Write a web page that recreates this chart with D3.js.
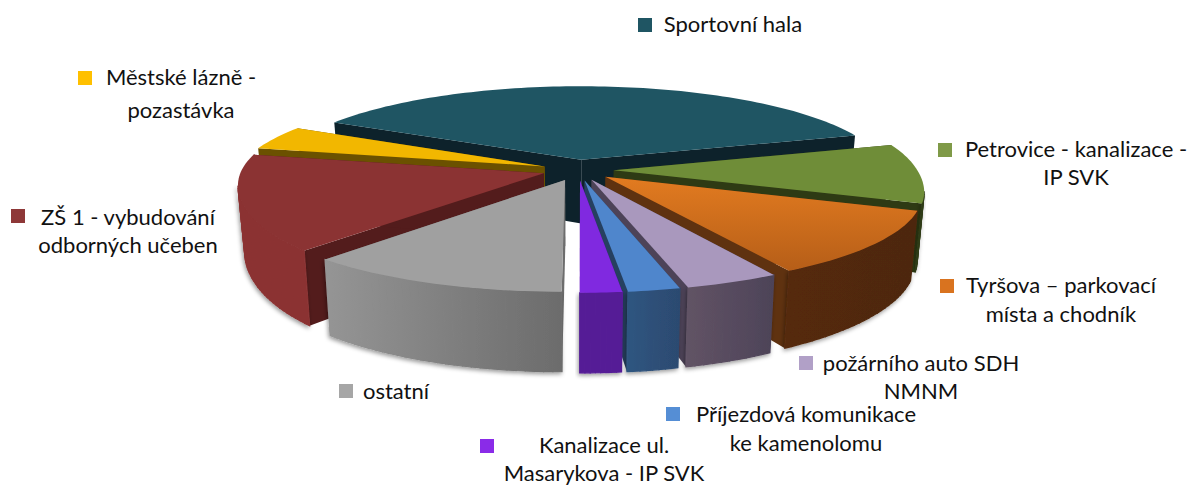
<!DOCTYPE html>
<html><head><meta charset="utf-8">
<style>html,body{margin:0;padding:0;background:#fff;overflow:hidden}svg{display:block}text{font-family:Lato,"Open Sans",sans-serif;font-size:22px;fill:#111}</style>
<script src="https://cdn.jsdelivr.net/npm/d3@7/dist/d3.min.js"></script>
</head><body><svg id="c" width="1189" height="486"></svg>
<script>
const categories=["Sportovní hala","Petrovice - kanalizace - IP SVK","Tyršova – parkovací místa a chodník","požárního auto SDH NMNM","Příjezdová komunikace ke kamenolomu","Kanalizace ul. Masarykova - IP SVK","ostatní","ZŠ 1 - vybudování odborných učeben","Městské lázně - pozastávka"];
const values=[37.4,10.5,11.2,4.1,2.25,1.8,11.5,16.9,4.35];
const topColors=["#1f5563","#6f8d38",["#e27b20","#b65e18"],"#a998bd","#4f86cc","#8029e0","#a0a0a0","#8b3333","#f2b700"];
const legendColors=["#1f5563","#7f9a48","#d9731f","#b1a0c7","#558ed5","#8a2be8","#a6a6a6","#8e3838","#ffc000"];
const wallColors=["#0d222b","#2e3a14","#5f3210","#4d4358","#264060","#3f1578","#6d6d6d","#531c1c","#6b5100"];
const rimLight=["#1f5563","#2e3a14","#55290c","#615365","#2f5580","#551c96","#959595","#8b3333","#8a6a00"];
const rimDark=["#0d222b","#2e3a14","#4d280b","#4d4358","#2c4a70","#551c96","#6c6c6c","#8b3333","#8a6a00"];
const rimFlatten=[0,.012,0,0,0,0,0,.03,0];
const legendLines=[["Sportovní hala"],["Petrovice - kanalizace -","IP SVK"],["Tyršova – parkovací","místa a chodník"],["požárního auto SDH","NMNM"],["Příjezdová komunikace","ke kamenolomu"],["Kanalizace ul.","Masarykova - IP SVK"],["ostatní"],["ZŠ 1 - vybudování","odborných učeben"],["Městské lázně -","pozastávka"]];
const legendPos=[[638,18,733,32],[938,143,1076,157],[940,279,1061,293],[799,356,921,371],[666,407,806,422],[480,439,604,453],[339,384,396,399],[11,209,128,225],[78,71,181,85]];
const lineGap=[0,28,29,28,29,28,0,28,33];

const svg=d3.select("#c"),defs=svg.append("defs");
const cx=578,cy=170,RX=325,RY=94.4,persp=.179,H=65,radius=.945,explode=.11,bottomX=.98;
const startDeg=298;
const pie=d3.pie().sort(null).value(d=>d).startAngle(startDeg*Math.PI/180).endAngle((startDeg+360)*Math.PI/180);
const arcs=pie(values);
function proj(u,v,z){const k=1/(1-persp*v);return [cx+(u*RX*k)*(z?bottomX:1),cy+k*(RY*v+(z?H:0))];}
const toPath=d3.line();
const f=defs.append("filter").attr("id","sh").attr("x","-10%").attr("y","-10%").attr("width","120%").attr("height","125%");
f.append("feDropShadow").attr("dx",-1).attr("dy",2).attr("stdDeviation",2).attr("flood-color","#000").attr("flood-opacity",.4);
const order=[0,8,7,1,6,2,3,4,5];
order.forEach(i=>{
  const a=arcs[i],mid=(a.startAngle+a.endAngle)/2,span=a.endAngle-a.startAngle;
  const ax=explode*Math.sin(mid),ay=-explode*Math.cos(mid);
  const pt=(t)=>{const r=radius*(1-rimFlatten[i]*Math.sin(Math.PI*(t-a.startAngle)/span));return [ax+r*Math.sin(t),ay-r*Math.cos(t)];};
  const n=Math.max(8,Math.round(span*40));
  const ts=d3.range(n+1).map(j=>a.startAngle+span*j/n);
  const topRim=ts.map(t=>proj(...pt(t),0)),botRim=ts.map(t=>proj(...pt(t),1));
  const g=svg.append("g");
  const A0=proj(ax,ay,0),A1=proj(ax,ay,1);
  const wall=(t)=>{const p=pt(t);return [A0,proj(...p,0),proj(...p,1),A1];};
  g.append("path").attr("d",toPath(wall(a.startAngle))+"Z").attr("fill",wallColors[i]);
  g.append("path").attr("d",toPath(wall(a.endAngle))+"Z").attr("fill",wallColors[i]);
  const front=d3.range(n).filter(j=>topRim[j+1][0]<topRim[j][0]);
  if(front.length){
    const id="rim"+i,xs=topRim.map(p=>p[0]);
    const gr=defs.append("linearGradient").attr("id",id).attr("gradientUnits","userSpaceOnUse").attr("x1",d3.min(xs)).attr("x2",d3.max(xs)).attr("y1",0).attr("y2",0);
    gr.append("stop").attr("offset",0).attr("stop-color",rimLight[i]);
    gr.append("stop").attr("offset",1).attr("stop-color",rimDark[i]);
    const rg=g.append("g").attr("filter","url(#sh)");
    front.forEach(j=>{
      rg.append("path").attr("d",toPath([topRim[j],topRim[j+1],botRim[j+1],botRim[j]])+"Z")
        .attr("fill","url(#"+id+")").attr("stroke","url(#"+id+")").attr("stroke-width",1.2);
    });
  }
  let fill=topColors[i];
  if(Array.isArray(fill)){
    const ys=topRim.map(p=>p[1]).concat(A0[1]);
    const tg=defs.append("linearGradient").attr("id","top"+i).attr("gradientUnits","userSpaceOnUse").attr("x1",0).attr("x2",0).attr("y1",d3.min(ys)).attr("y2",d3.max(ys));
    tg.append("stop").attr("offset",0).attr("stop-color",fill[0]);
    tg.append("stop").attr("offset",1).attr("stop-color",fill[1]);
    fill="url(#top"+i+")";
  }
  g.append("path").attr("d",toPath([A0].concat(topRim))+"Z").attr("fill",fill);
});
categories.forEach((c,i)=>{
  const [sx,sy,tx,ty]=legendPos[i];
  const lg=svg.append("g");
  lg.append("rect").attr("x",sx).attr("y",sy).attr("width",14).attr("height",14).attr("fill",legendColors[i]);
  legendLines[i].forEach((l,j)=>lg.append("text").attr("x",tx).attr("y",ty+j*lineGap[i]).attr("text-anchor","middle").text(l));
});
</script></body></html>
